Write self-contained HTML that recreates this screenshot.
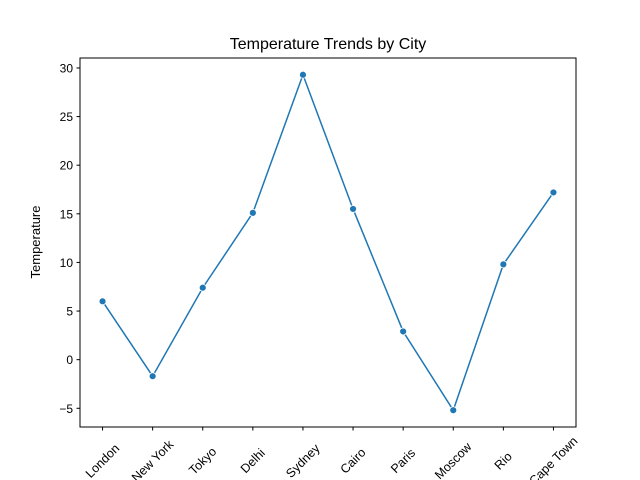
<!DOCTYPE html>
<html><head><meta charset="utf-8"><style>body{margin:0;background:#fff;overflow:hidden}svg{display:block}text{font-family:"Liberation Sans","DejaVu Sans",sans-serif;fill:#000}</style></head>
<body>
<svg id="chart" width="640" height="480" viewBox="0 0 640 480" xmlns="http://www.w3.org/2000/svg">
<text x="328" y="49" font-size="16" text-anchor="middle">Temperature Trends by City</text>
<text x="0" y="0" font-size="13" text-anchor="middle" transform="translate(40,242) rotate(-90)">Temperature</text>
<g id="plot"></g>
<rect x="80" y="58" width="496" height="369" fill="none" stroke="#000" stroke-width="1"/>
</svg>
<script>
const categories = ["London","New York","Tokyo","Delhi","Sydney","Cairo","Paris","Moscow","Rio","Cape Town"];
const temps = [6.0,-1.7,7.4,15.1,29.3,15.5,2.9,-5.2,9.8,17.2];
const yTicks = [-5,0,5,10,15,20,25,30];
const yTickLabels = ["\u22125","0","5","10","15","20","25","30"];

const L=80,R=576,T=58,B=427;
const ymin=Math.min(...temps),ymax=Math.max(...temps),pad=(ymax-ymin)*0.05;
const y0=ymin-pad,y1=ymax+pad;
const n=categories.length,xpad=(n-1)*0.05;
const x=i=>L+(i+xpad)/(n-1+2*xpad)*(R-L);
const y=v=>B-(v-y0)/(y1-y0)*(B-T);
const NS="http://www.w3.org/2000/svg";
const g=document.getElementById('plot');
function mk(t,a){const e=document.createElementNS(NS,t);for(const k in a)e.setAttribute(k,a[k]);g.appendChild(e);return e;}
yTicks.forEach((v,i)=>{
  const t=mk('line',{x1:L-3.5,x2:L,y1:y(v),y2:y(v),stroke:'#000'});
  
  
  const l=mk('text',{x:L-7,y:y(v)+4.5,'font-size':12,'text-anchor':'end'});
  l.textContent=yTickLabels[i];
  
  
});
categories.forEach((c,i)=>{
  const t=mk('line',{x1:x(i),x2:x(i),y1:B,y2:B+3.5,stroke:'#000'});
  
  
  const l=mk('text',{x:0,y:0,'font-size':12.5,'text-anchor':'middle',transform:`translate(${x(i)},${B+34}) rotate(-45) translate(0,4)`});
  l.textContent=c;
  
  
});
const line=mk('polyline',{points:temps.map((v,i)=>x(i)+','+y(v)).join(' '),fill:'none',stroke:'#1f77b4','stroke-width':1.5});


temps.forEach((v,i)=>{
  const p=mk('circle',{cx:x(i),cy:y(v),r:3.5,fill:'#1f77b4',stroke:'#fff','stroke-width':0.8});
  
  
});
</script>
</body></html>
